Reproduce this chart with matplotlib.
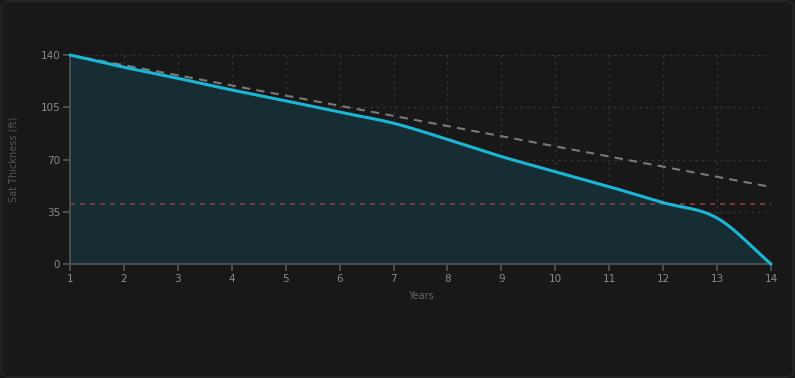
import numpy as np
import matplotlib
matplotlib.use("Agg")
import matplotlib.pyplot as plt
from matplotlib.patches import FancyBboxPatch

years = [1, 2, 3, 4, 5, 6, 7, 8, 9, 10, 11, 12, 13, 14]
sat_thickness = [140, 131.8, 124.4, 116.6, 109.3, 101.7, 94.3, 83.5, 72.0, 61.8, 51.8, 41.1, 30.8, 0]
trend = [140, 133.2, 126.4, 119.6, 112.8, 106.0, 99.2, 92.4, 85.6, 78.8, 72.0, 65.2, 58.4, 51.6]
threshold = 40
y_ticks = [0, 35, 70, 105, 140]


def monotone_cubic(x, y, n=30):
    x = np.asarray(x, float)
    y = np.asarray(y, float)
    h = np.diff(x)
    d = np.diff(y) / h
    m = np.zeros_like(y)
    m[0] = d[0]
    m[-1] = d[-1]
    for i in range(1, len(x) - 1):
        if d[i - 1] * d[i] <= 0:
            m[i] = 0
        else:
            m[i] = (d[i - 1] + d[i]) / 2
    for i in range(len(d)):
        if d[i] == 0:
            m[i] = m[i + 1] = 0
        else:
            a = m[i] / d[i]
            b = m[i + 1] / d[i]
            s = a * a + b * b
            if s > 9:
                t = 3 / np.sqrt(s)
                m[i] = t * a * d[i]
                m[i + 1] = t * b * d[i]
    xs, ys = [], []
    for i in range(len(d)):
        t = np.linspace(0, 1, n, endpoint=(i == len(d) - 1))
        h00 = 2 * t**3 - 3 * t**2 + 1
        h10 = t**3 - 2 * t**2 + t
        h01 = -2 * t**3 + 3 * t**2
        h11 = t**3 - t**2
        xs.append(x[i] + t * h[i])
        ys.append(h00 * y[i] + h10 * h[i] * m[i] + h01 * y[i + 1] + h11 * h[i] * m[i + 1])
    return np.concatenate(xs), np.concatenate(ys)


bg = "#181818"
fig = plt.figure(figsize=(7.95, 3.78), dpi=100, facecolor=bg)
card = FancyBboxPatch((0.002, 0.003), 0.996, 0.994, boxstyle="round,pad=0,rounding_size=0.012",
                      transform=fig.transFigure, facecolor="none", edgecolor="#262626", linewidth=1.2)
fig.patches.append(card)

ax = fig.add_axes([70 / 795, 1 - 264 / 378, (771 - 70) / 795, (264 - 55) / 378])
ax.set_facecolor("none")

xs, ys = monotone_cubic(years, sat_thickness)
ax.fill_between(xs, 0, ys, color="#162d33", zorder=1, linewidth=0)
ax.plot(xs, ys, color="#19b6d6", linewidth=2.2, zorder=4, clip_on=False, solid_capstyle="round")
ax.plot(years, trend, color="#7a7a7a", linewidth=1.5, linestyle=(0, (4, 3)), zorder=3)
ax.axhline(threshold, color="#8e3b3b", linewidth=1.2, linestyle=(0, (3, 3)), zorder=3)

ax.set_xlim(1, 14)
ax.set_ylim(0, 140)
ax.set_xticks(years)
ax.set_yticks(y_ticks)
ax.set_xticklabels([str(v) for v in years])
ax.set_yticklabels([str(v) for v in y_ticks])

ax.grid(True, color="#333333", linestyle=(0, (2, 3)), linewidth=0.9, zorder=0)
ax.set_axisbelow(True)
for s in ["top", "right"]:
    ax.spines[s].set_visible(False)
for s in ["left", "bottom"]:
    ax.spines[s].set_color("#555555")
    ax.spines[s].set_linewidth(1.2)
ax.tick_params(colors="#555555", length=5, width=1.2, labelsize=7.5, labelcolor="#858b93", pad=2)

ax.set_xlabel("Years", color="#666666", fontsize=7)
ax.set_ylabel("Sat Thickness (ft)", color="#555555", fontsize=7)
ax.xaxis.set_label_coords(0.5, -(296 - 264) / 209, transform=ax.transAxes)
ax.xaxis.label.set_va("center")
ax.yaxis.set_label_coords(-(70 - 14) / 701, 0.5, transform=ax.transAxes)
ax.yaxis.label.set_va("center")

fig.savefig("out.png", dpi=100, facecolor=bg)
